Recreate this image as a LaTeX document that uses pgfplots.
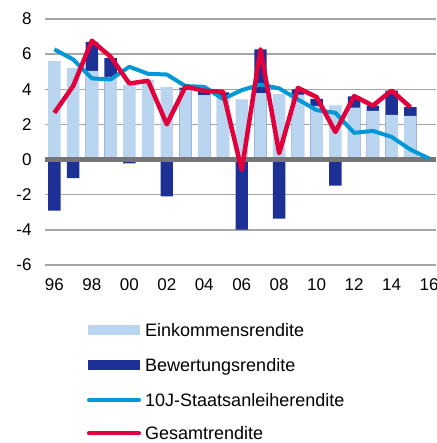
\documentclass[border=0pt]{standalone}
\usepackage{fontspec}
\setmainfont{Liberation Sans}
\usepackage{pgfplots}
\pgfplotsset{compat=1.18}
\definecolor{lightbar}{RGB}{185,213,240}
\definecolor{darkbar}{RGB}{28,48,150}
\definecolor{lineblue}{RGB}{0,153,214}
\definecolor{linered}{RGB}{226,0,60}
\definecolor{gridgray}{RGB}{166,166,166}
\definecolor{zerogray}{RGB}{118,118,118}
\begin{document}
\begin{tikzpicture}
\useasboundingbox (0,0) rectangle (436pt,443pt);
\begin{axis}[
  at={(45pt,178pt)}, anchor=south west,
  scale only axis, width=391pt, height=246pt,
  xmin=1995.5, xmax=2016.37, ymin=-6, ymax=8,
  xtick={1996,1998,...,2016},
  xticklabels={96,98,00,02,04,06,08,10,12,14,16},
  ytick={-6,-4,...,8},
  yticklabels={-6,-4,-2,0,2,4,6,8},
  axis line style={draw=none},
  major tick length=0pt,
  ymajorgrids, grid style={gridgray, line width=1.3pt},
  tick label style={font=\fontsize{17}{20}\selectfont},
  yticklabel style={xshift=-10pt},
  xticklabel style={yshift=-10pt},
  clip=false,
]
% Bewertungsrendite (drawn as bar tops: income + valuation where positive)
\addplot[ybar, bar width=12.4pt, bar shift=0pt, fill=darkbar, draw=none] coordinates {
(1996,-2.9) (1997,-1.05) (1998,6.7) (1999,5.77) (2000,-0.22) (2002,-2.09) (2003,4.1)
(2004,3.85) (2005,3.82) (2006,-3.99) (2007,6.27) (2008,-3.36) (2009,4.0) (2010,3.45)
(2011,-1.48) (2012,3.6) (2013,3.07) (2014,3.92) (2015,2.98)};
% Einkommensrendite
\addplot[ybar, bar width=12.4pt, bar shift=0pt, fill=lightbar, draw=none] coordinates {
(1996,5.6) (1997,5.22) (1998,5.05) (1999,4.7) (2000,4.25) (2001,4.52) (2002,4.12)
(2003,3.97) (2004,3.66) (2005,3.57) (2006,3.42) (2007,3.78) (2008,3.74) (2009,3.7)
(2010,3.05) (2011,3.09) (2012,2.96) (2013,2.77) (2014,2.55) (2015,2.49)};
% zero line
\addplot[zerogray, line width=4.5pt] coordinates {(1995.5,0) (2016.37,0)};
% 10J-Staatsanleiherendite
\addplot[lineblue, line width=4pt, line join=round] coordinates {
(1996,6.27) (1997,5.7) (1998,4.62) (1999,4.56) (2000,5.28) (2001,4.88) (2002,4.84)
(2003,4.18) (2004,4.14) (2005,3.45) (2006,3.95) (2007,4.27) (2008,4.05) (2009,3.42)
(2010,2.81) (2011,2.66) (2012,1.52) (2013,1.63) (2014,1.29) (2015,0.57) (2016,0.06)};
% Gesamtrendite
\addplot[linered, line width=4.5pt, line join=round] coordinates {
(1996,2.66) (1997,4.18) (1998,6.76) (1999,5.85) (2000,4.33) (2001,4.48) (2002,2.01)
(2003,4.15) (2004,3.91) (2005,3.86) (2006,-0.6) (2007,6.27) (2008,0.36) (2009,4.08)
(2010,3.55) (2011,1.57) (2012,3.61) (2013,3.07) (2014,3.93) (2015,2.98)};
\end{axis}
% legend
\begin{scope}[every node/.style={anchor=base west, inner sep=0pt, font=\fontsize{18}{21}\selectfont}]
\fill[lightbar] (88pt,108pt) rectangle (140pt,118pt);
\node at (145pt,106.3pt) {Einkommensrendite};
\fill[darkbar] (88pt,73pt) rectangle (140pt,83pt);
\node at (145pt,71.3pt) {Bewertungsrendite};
\draw[lineblue, line width=4pt, line cap=round] (89pt,43pt) -- (139pt,43pt);
\node at (145pt,36.3pt) {10J-Staatsanleiherendite};
\draw[linered, line width=4pt, line cap=round] (89pt,9.5pt) -- (139pt,9.5pt);
\node at (145pt,3.5pt) {Gesamtrendite};
\end{scope}
\end{tikzpicture}
\end{document}
